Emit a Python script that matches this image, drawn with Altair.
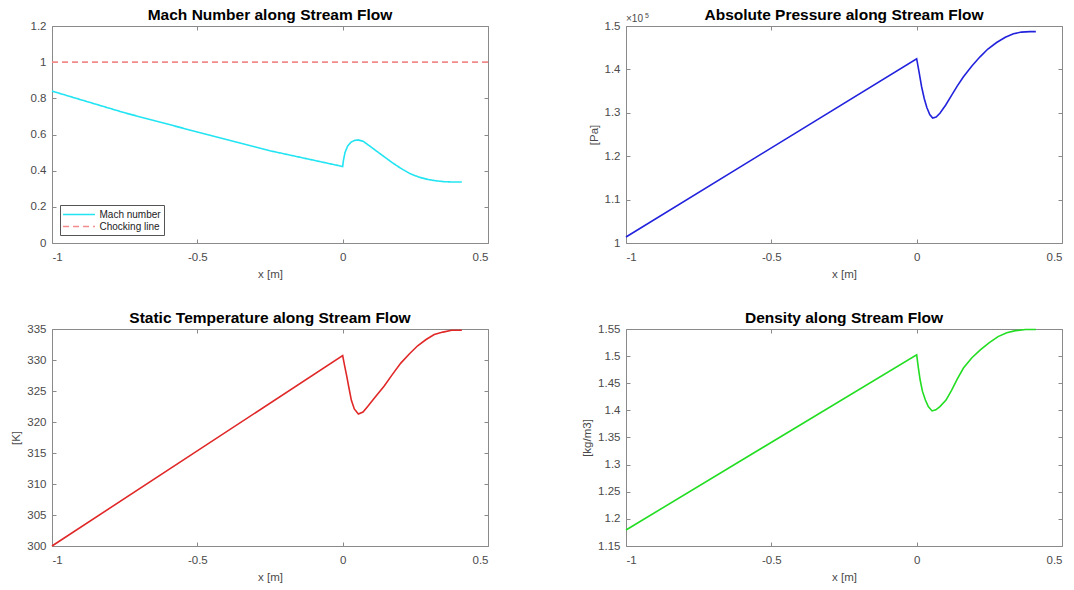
import altair as alt
import pandas as pd

FONT = "Liberation Sans"
LABEL_C = "#4a4a4a"
FRAME_C = "#8a8a8a"

# ---- data ----
x_mach = [-1.0, -0.75, -0.5, -0.25, 0.0, 0.003, 0.008, 0.017, 0.028, 0.04, 0.053, 0.07,
          0.09, 0.115, 0.143, 0.17, 0.2, 0.235, 0.265, 0.292, 0.32, 0.35, 0.38, 0.41]
mach = [0.84, 0.72, 0.614, 0.51, 0.423, 0.46, 0.5, 0.536, 0.557, 0.567, 0.57, 0.563,
        0.54, 0.51, 0.477, 0.445, 0.413, 0.381, 0.363, 0.352, 0.344, 0.339, 0.337, 0.337]
x_choke = [-1.0, 0.5]
choke = [1.0, 1.0]

x_p = [-1.0, 0.0, 0.008, 0.017, 0.026, 0.035, 0.045, 0.055, 0.067, 0.08, 0.1, 0.12, 0.14,
       0.161, 0.19, 0.218, 0.245, 0.275, 0.305, 0.333, 0.36, 0.39, 0.41]
pressure = [101380, 142460, 139500, 136000, 133300, 131200, 129600, 128800, 129000, 129900,
            131800, 134000, 136200, 138300, 140800, 142900, 144700, 146200, 147400, 148200,
            148600, 148700, 148700]

x_t = [-1.0, 0.0, 0.007, 0.014, 0.022, 0.03, 0.04, 0.054, 0.07, 0.086, 0.11, 0.143, 0.17,
       0.2, 0.23, 0.258, 0.287, 0.315, 0.345, 0.375, 0.41]
temperature = [300.0, 330.7, 329.0, 327.4, 325.4, 323.5, 322.1, 321.3, 321.6, 322.5, 323.9,
               325.8, 327.6, 329.5, 331.0, 332.3, 333.3, 334.1, 334.5, 334.8, 334.8]

x_rho = [-1.0, 0.0, 0.006, 0.012, 0.02, 0.03, 0.04, 0.053, 0.066, 0.08, 0.101, 0.12, 0.14,
         0.161, 0.19, 0.22, 0.25, 0.28, 0.31, 0.34, 0.375, 0.41]
density = [1.1795, 1.5026, 1.478, 1.456, 1.435, 1.419, 1.407, 1.399, 1.401, 1.407, 1.419,
           1.437, 1.458, 1.478, 1.497, 1.512, 1.525, 1.536, 1.543, 1.547, 1.549, 1.549]

x_ticks = [-1, -0.5, 0, 0.5]
mach_ticks = [0, 0.2, 0.4, 0.6, 0.8, 1, 1.2]
p_ticks = [100000, 110000, 120000, 130000, 140000, 150000]
t_ticks = [300, 305, 310, 315, 320, 325, 330, 335]
rho_ticks = [1.15, 1.2, 1.25, 1.3, 1.35, 1.4, 1.45, 1.5, 1.55]

series_names = ["Mach number", "Chocking line"]
titles = ["Mach Number along Stream Flow", "Absolute Pressure along Stream Flow",
          "Static Temperature along Stream Flow", "Density along Stream Flow"]

W, H = 436, 217


def x_enc(top=False):
    if top:
        ax = alt.Axis(orient="top", values=x_ticks, labels=False, title=None, domain=False,
                      grid=False, tickSize=4, offset=-4)
    else:
        ax = alt.Axis(orient="bottom", values=x_ticks, labelExpr="'' + datum.value",
                      title="x [m]", domain=False, grid=False, tickSize=4, offset=-4,
                      labelPadding=8, titlePadding=6)
    return alt.X("x:Q", scale=alt.Scale(domain=[-1, 0.5], nice=False, zero=False), axis=ax)


def y_enc(field, dom, ticks, title, right=False, label_expr="'' + datum.value"):
    if right:
        ax = alt.Axis(orient="right", values=ticks, labels=False, title=None, domain=False,
                      grid=False, tickSize=4, offset=-4)
    else:
        kw = dict(orient="left", values=ticks, labelExpr=label_expr, domain=False, grid=False,
                  tickSize=4, offset=-4, labelPadding=6, titlePadding=5)
        kw["title"] = title if title else None
        ax = alt.Axis(**kw)
    return alt.Y(f"{field}:Q", scale=alt.Scale(domain=dom, nice=False, zero=False), axis=ax)


def title_layer(text):
    return alt.Chart(pd.DataFrame({"t": [text]})).mark_text(
        align="center", baseline="middle", font=FONT, fontSize=15.5, fontWeight="bold",
        color="black").encode(x=alt.value(W / 2), y=alt.value(-11.5), text="t:N")


# ---- Mach panel ----
df_mach = pd.DataFrame({"x": x_mach, "v": mach, "series": series_names[0]})
df_choke = pd.DataFrame({"x": x_choke, "v": choke, "series": series_names[1]})
df_tl = pd.concat([df_mach, df_choke], ignore_index=True)
df_tl["order"] = range(len(df_tl))

legend = alt.Legend(title=None, orient="bottom-left", offset=8, strokeColor="#555555",
                    fillColor="white", padding=3, labelFontSize=10, labelColor="#222222",
                    labelFont=FONT, symbolSize=121, symbolType="M-2.9,0H2.9",
                    symbolStrokeWidth=1.5, rowPadding=0, symbolOffset=9.5,
                    labelOffset=14, cornerRadius=0)

tl_main = alt.Chart(df_tl).mark_line(strokeWidth=1.6).encode(
    x=x_enc(),
    y=y_enc("v", [0, 1.2], mach_ticks, None),
    color=alt.Color("series:N", scale=alt.Scale(domain=series_names,
                                                range=["#22E4F2", "#F28B8B"]), legend=legend),
    strokeDash=alt.StrokeDash("series:N", scale=alt.Scale(domain=series_names,
                                                          range=[[1, 0], [6, 4]]), legend=legend),
    order="order:Q",
)
tl_ghost = alt.Chart(df_mach).mark_line(opacity=0).encode(
    x=x_enc(top=True), y=y_enc("v", [0, 1.2], mach_ticks, None, right=True))
tl = alt.layer(tl_main, tl_ghost, title_layer(titles[0])).resolve_axis(
    x="independent", y="independent").properties(width=W, height=H)


def simple_panel(xs, ys, color, dom, ticks, ytitle, title, label_expr="'' + datum.value",
                 extra=None):
    df = pd.DataFrame({"x": xs, "v": ys})
    main = alt.Chart(df).mark_line(strokeWidth=1.6, color=color).encode(
        x=x_enc(), y=y_enc("v", dom, ticks, ytitle, label_expr=label_expr))
    ghost = alt.Chart(df).mark_line(opacity=0).encode(
        x=x_enc(top=True), y=y_enc("v", dom, ticks, None, right=True))
    layers = [main, ghost, title_layer(title)]
    if extra is not None:
        layers += extra
    return alt.layer(*layers).resolve_axis(x="independent", y="independent").properties(
        width=W, height=H)


exp_df = pd.DataFrame({"t": ["×10"]})
exp5_df = pd.DataFrame({"t": ["5"]})
exp_text = [
    alt.Chart(exp_df).mark_text(align="left", baseline="alphabetic", font=FONT, fontSize=10,
                                color=LABEL_C).encode(
        x=alt.value(0), y=alt.value(-4), text="t:N"),
    alt.Chart(exp5_df).mark_text(align="left", baseline="alphabetic", font=FONT, fontSize=7,
                                 color=LABEL_C).encode(
        x=alt.value(19), y=alt.value(-8), text="t:N"),
]

tr = simple_panel(x_p, pressure, "#2222DD", [100000, 150000], p_ticks, "[Pa]", titles[1],
                  label_expr="'' + (datum.value / 100000)", extra=exp_text)
bl = simple_panel(x_t, temperature, "#E02828", [300, 335], t_ticks, "[K]", titles[2])
br = simple_panel(x_rho, density, "#22DD22", [1.15, 1.55], rho_ticks, "[kg/m3]", titles[3])

chart = alt.concat(tl, tr, bl, br, columns=2, spacing={"row": 86, "column": 138},
                   bounds="flush", align="each").resolve_legend(
    color="independent", strokeDash="independent").properties(
    padding={"left": 10, "top": 7, "right": 0, "bottom": 0},
    background="white",
).configure_view(stroke=FRAME_C, strokeWidth=1).configure_axis(
    labelFont=FONT, titleFont=FONT, labelFontSize=11.5, titleFontSize=11.5,
    labelColor=LABEL_C, titleColor=LABEL_C, titleFontWeight="normal", tickColor=FRAME_C,
    tickWidth=1,
)

chart.save("out.html", embed_options={"renderer": "svg", "actions": False})
